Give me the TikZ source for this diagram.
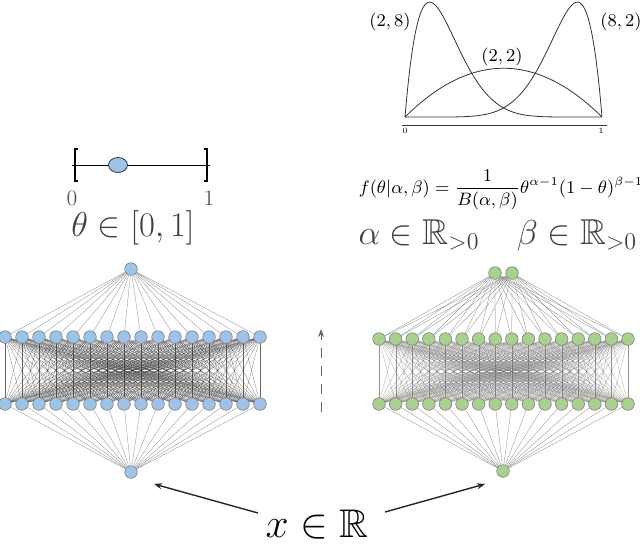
\documentclass[tikz,border=0pt]{standalone}
\usepackage{amsmath,amssymb}
\usetikzlibrary{backgrounds,arrows.meta,shapes.geometric}
\definecolor{nblue}{HTML}{9DC3E6}
\definecolor{ngreen}{HTML}{A9D18E}
\tikzset{
  neuron/.style={circle,draw=black!50,line width=0.3pt,inner sep=0pt,minimum size=6.3pt},
  bneuron/.style={neuron,fill=nblue},
  gneuron/.style={neuron,fill=ngreen},
  wire/.style={black!50,line width=0.13pt},
  dwire/.style={black!85,line width=0.1pt,opacity=0.7},
  gwire/.style={black!60,line width=0.1pt,opacity=0.7},
  bigmath/.style={font=\fontsize{18}{20}\selectfont},
  curve/.style={black!80,line width=0.4pt},
  xarrow/.style={-{Stealth[length=4pt,width=3pt]},line width=0.7pt,black!85}
}
\begin{document}
\begin{tikzpicture}[x=0.5pt,y=-0.5pt]
\useasboundingbox (0,0) rectangle (640,543);
% ---- left network
\node[bneuron] (lt) at (131,269) {};
\node[bneuron] (lb) at (131,472) {};
\foreach \i in {0,...,15}{
  \node[bneuron] (lu\i) at ({5+17*\i},337) {};
  \node[bneuron] (ll\i) at ({5+17*\i},404) {};
}
% ---- right network
\node[gneuron] (rt1) at (495,273) {};
\node[gneuron] (rt2) at (512,273) {};
\node[gneuron] (rb) at (503,471) {};
\foreach \i in {0,...,15}{
  \node[gneuron] (ru\i) at ({379+16.6*\i},339) {};
  \node[gneuron] (rl\i) at ({379+16.6*\i},404) {};
}
\begin{scope}[on background layer]
\foreach \i in {0,...,15}{
  \draw[wire] (lt) -- (lu\i);
  \draw[wire] (lb) -- (ll\i);
  \draw[wire] (rt1) -- (ru\i);
  \draw[wire] (rt2) -- (ru\i);
  \draw[wire] (rb) -- (rl\i);
  \foreach \j in {0,...,15}{
    \draw[dwire] (lu\i.center) -- (ll\j.center);
    \draw[gwire] (ru\i.center) -- (rl\j.center);
  }
}
\end{scope}
% ---- middle dashed arrow
\coordinate (ma) at (321,412);
\coordinate (mb) at (321,329);
\draw[black!60,dashed,dash pattern=on 5pt off 4pt,line width=0.5pt,-{Stealth[length=4pt,width=3pt]}] (ma) -- (mb);
% ---- input
\node[font=\fontsize{20}{22}\selectfont,inner sep=1pt] (x) at (317,525) {$x\in\mathbb{R}$};
\coordinate (xa) at (258,513);
\coordinate (xb) at (385,512);
\coordinate (xl) at (154,484);
\coordinate (xr) at (485,484);
\draw[xarrow] (xa) -- (xl);
\draw[xarrow] (xb) -- (xr);
% ---- theta interval
\coordinate (i0) at (72,165);
\coordinate (i1) at (210,165);
\draw[line width=0.5pt] (i0) -- (i1);
\draw[line width=0.8pt] ([xshift=3]i0) ++(0,-16) -- ++(-3,0) -- ++(0,32) -- ++(3,0);
\draw[line width=0.8pt] ([xshift=-3]i1) ++(0,-16) -- ++(3,0) -- ++(0,32) -- ++(-3,0);
\node[ellipse,draw=black!80,fill=nblue,line width=0.4pt,minimum width=9.5pt,minimum height=7.5pt,inner sep=0pt] (dot) at (118,165) {};
\node[font=\fontsize{11}{12}\selectfont,text=black!65] (l0) at (72,198) {0};
\node[font=\fontsize{11}{12}\selectfont,text=black!65] (l1) at (209,198) {1};
\node[bigmath,text=black!75] (th) at (133,228) {$\theta\in[0,1]$};
% ---- beta plot
\draw[black!80,line width=0.4pt] (402,125) -- (607,125);
\node[font=\fontsize{4}{5}\selectfont] (a0) at (405,131) {0};
\node[font=\fontsize{4}{5}\selectfont] (a1) at (601,131) {1};
\draw[curve] plot[domain=0:1,samples=160,smooth] ({405+197*\x},{117-32.5*72*\x*(1-\x)^7});
\draw[curve] plot[domain=0:1,samples=160,smooth] ({405+197*\x},{117-32.5*72*\x^7*(1-\x)});
\draw[curve] plot[domain=0:1,samples=80,smooth] ({405+197*\x},{117-32.5*6*\x*(1-\x)});
\node[font=\fontsize{9}{10}\selectfont] (p28) at (390,22) {$(2,8)$};
\node[font=\fontsize{9}{10}\selectfont] (p22) at (502,57) {$(2,2)$};
\node[font=\fontsize{9}{10}\selectfont] (p82) at (621,22) {$(8,2)$};
\node[font=\fontsize{8.8}{10}\selectfont,inner sep=0pt] (f) at (501,190) {$f(\theta|\alpha,\beta)=\dfrac{1}{B(\alpha,\beta)}\theta^{\alpha-1}(1-\theta)^{\beta-1}$};
\node[bigmath,text=black!75] (al) at (419,235) {$\alpha\in\mathbb{R}_{>0}$};
\node[bigmath,text=black!75,inner sep=0pt] (be) at (577,235) {$\beta\in\mathbb{R}_{>0}$};
\end{tikzpicture}
\end{document}
